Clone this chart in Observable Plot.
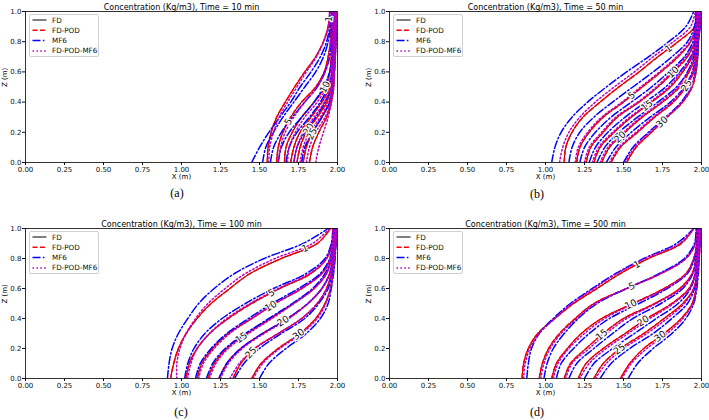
<!DOCTYPE html>
<html>
<head>
<meta charset="utf-8">
<script src="https://cdn.jsdelivr.net/npm/d3@7"></script>
<script src="https://cdn.jsdelivr.net/npm/@observablehq/plot@0.6"></script>
<style>
  body { margin: 0; background: #fff; }
  #fig { position: relative; width: 709px; height: 420px; overflow: hidden; font-family: "DejaVu Sans", sans-serif; }
  .panel { position: absolute; }
  .caption { position: absolute; font-family: "Liberation Serif", serif; font-size: 12px; line-height: 1; transform: translate(-50%, -50%); }
  .legend { position: absolute; box-sizing: border-box; background: rgba(255,255,255,0.85); border: 0.8px solid #d0d0d0; border-radius: 2px; }
  .legend svg { display: block; overflow: visible; }
</style>
</head>
<body>
<div id="fig"></div>
<script>
// Heights at which every contour's X position is tabulated
const zGrid = [0, 0.1, 0.2, 0.3, 0.4, 0.5, 0.6, 0.7, 0.8, 0.9, 1.0];
// Concentration contour levels (kg/m3)
const levels = [1, 5, 10, 15, 20, 25, 30];
const xTicks = [0, 0.25, 0.5, 0.75, 1.0, 1.25, 1.5, 1.75, 2.0];
const zTicks = [0, 0.2, 0.4, 0.6, 0.8, 1.0];
const times = [10, 50, 100, 500];
const panelTags = ["(a)", "(b)", "(c)", "(d)"];
const seriesNames = ["FD", "FD-POD", "MF6", "FD-POD-MF6"];

// ---- t = 10 min : X (m) of each level at the zGrid heights ----
const fd10 = [
  [1.55, 1.555, 1.575, 1.61, 1.665, 1.725, 1.79, 1.86, 1.91, 1.94, 1.95],
  [1.61, 1.62, 1.65, 1.70, 1.77, 1.86, 1.915, 1.94, 1.955, 1.96, 1.965],
  [1.66, 1.67, 1.71, 1.77, 1.85, 1.92, 1.95, 1.96, 1.965, 1.97, 1.97],
  [1.70, 1.72, 1.76, 1.83, 1.90, 1.95, 1.965, 1.97, 1.975, 1.975, 1.98],
  [1.74, 1.76, 1.80, 1.87, 1.93, 1.96, 1.97, 1.975, 1.98, 1.98, 1.985],
  [1.78, 1.80, 1.84, 1.90, 1.95, 1.97, 1.975, 1.98, 1.985, 1.985, 1.99],
  [1.82, 1.84, 1.88, 1.93, 1.96, 1.975, 1.98, 1.985, 1.99, 1.99, 1.995]
];
const mf610 = [
  [1.45, 1.50, 1.56, 1.63, 1.70, 1.76, 1.83, 1.89, 1.93, 1.95, 1.96],
  [1.52, 1.54, 1.59, 1.65, 1.72, 1.79, 1.86, 1.91, 1.94, 1.955, 1.96],
  [1.57, 1.59, 1.64, 1.71, 1.79, 1.87, 1.92, 1.95, 1.96, 1.965, 1.97],
  [1.62, 1.64, 1.69, 1.77, 1.85, 1.91, 1.95, 1.965, 1.97, 1.975, 1.975],
  [1.67, 1.69, 1.74, 1.82, 1.89, 1.94, 1.965, 1.975, 1.98, 1.98, 1.98],
  [1.72, 1.74, 1.79, 1.86, 1.92, 1.96, 1.975, 1.98, 1.985, 1.985, 1.985],
  [1.77, 1.79, 1.84, 1.90, 1.95, 1.97, 1.98, 1.985, 1.99, 1.99, 1.99]
];
const pm10 = [
  [1.56, 1.565, 1.59, 1.625, 1.68, 1.74, 1.80, 1.865, 1.91, 1.94, 1.95],
  [1.62, 1.635, 1.665, 1.72, 1.79, 1.87, 1.92, 1.945, 1.955, 1.96, 1.965],
  [1.68, 1.69, 1.73, 1.79, 1.87, 1.93, 1.955, 1.962, 1.967, 1.97, 1.97],
  [1.72, 1.74, 1.78, 1.85, 1.915, 1.955, 1.967, 1.972, 1.975, 1.977, 1.98],
  [1.76, 1.78, 1.82, 1.89, 1.94, 1.965, 1.972, 1.977, 1.98, 1.982, 1.985],
  [1.80, 1.82, 1.86, 1.92, 1.957, 1.972, 1.977, 1.982, 1.985, 1.987, 1.99],
  [1.86, 1.88, 1.91, 1.94, 1.962, 1.977, 1.982, 1.987, 1.99, 1.992, 1.995]
];

// ---- t = 50 min ----
const fd50 = [
  [1.12, 1.13, 1.17, 1.24, 1.35, 1.47, 1.60, 1.72, 1.85, 1.955, 1.965],
  [1.20, 1.22, 1.28, 1.37, 1.50, 1.62, 1.74, 1.85, 1.93, 1.965, 1.97],
  [1.26, 1.29, 1.37, 1.46, 1.60, 1.72, 1.82, 1.91, 1.955, 1.97, 1.975],
  [1.31, 1.35, 1.44, 1.55, 1.68, 1.80, 1.88, 1.94, 1.965, 1.975, 1.98],
  [1.36, 1.41, 1.51, 1.62, 1.75, 1.86, 1.92, 1.96, 1.97, 1.98, 1.985],
  [1.42, 1.48, 1.59, 1.70, 1.82, 1.90, 1.95, 1.97, 1.975, 1.985, 1.99],
  [1.52, 1.58, 1.68, 1.78, 1.88, 1.94, 1.965, 1.975, 1.98, 1.99, 1.995]
];
const mf650 = [
  [1.04, 1.06, 1.10, 1.17, 1.27, 1.39, 1.52, 1.66, 1.79, 1.90, 1.95],
  [1.15, 1.17, 1.22, 1.31, 1.43, 1.56, 1.69, 1.81, 1.91, 1.955, 1.965],
  [1.22, 1.25, 1.32, 1.42, 1.55, 1.68, 1.79, 1.89, 1.945, 1.965, 1.97],
  [1.28, 1.32, 1.40, 1.51, 1.64, 1.77, 1.86, 1.93, 1.96, 1.97, 1.975],
  [1.33, 1.38, 1.47, 1.59, 1.72, 1.84, 1.91, 1.95, 1.97, 1.98, 1.98],
  [1.39, 1.45, 1.55, 1.67, 1.80, 1.89, 1.94, 1.965, 1.975, 1.985, 1.985],
  [1.50, 1.56, 1.66, 1.77, 1.87, 1.93, 1.96, 1.975, 1.98, 1.99, 1.99]
];
const pm50 = [
  [1.09, 1.11, 1.15, 1.22, 1.32, 1.44, 1.57, 1.69, 1.82, 1.93, 1.96],
  [1.19, 1.21, 1.27, 1.36, 1.49, 1.61, 1.73, 1.84, 1.925, 1.962, 1.968],
  [1.25, 1.28, 1.36, 1.45, 1.59, 1.71, 1.81, 1.90, 1.952, 1.968, 1.973],
  [1.30, 1.34, 1.43, 1.54, 1.67, 1.79, 1.87, 1.935, 1.962, 1.973, 1.978],
  [1.35, 1.40, 1.50, 1.61, 1.74, 1.85, 1.915, 1.955, 1.968, 1.978, 1.983],
  [1.41, 1.47, 1.58, 1.69, 1.81, 1.895, 1.945, 1.967, 1.973, 1.983, 1.988],
  [1.51, 1.57, 1.67, 1.775, 1.875, 1.935, 1.962, 1.973, 1.978, 1.988, 1.993]
];

// ---- t = 100 min ----
const fd100 = [
  [0.93, 0.95, 0.98, 1.03, 1.10, 1.19, 1.31, 1.44, 1.64, 1.87, 1.955],
  [1.03, 1.05, 1.10, 1.18, 1.30, 1.45, 1.63, 1.83, 1.93, 1.965, 1.97],
  [1.10, 1.13, 1.20, 1.30, 1.45, 1.60, 1.77, 1.90, 1.955, 1.97, 1.975],
  [1.17, 1.21, 1.29, 1.42, 1.57, 1.72, 1.85, 1.93, 1.96, 1.975, 1.98],
  [1.24, 1.29, 1.38, 1.52, 1.68, 1.81, 1.90, 1.95, 1.97, 1.98, 1.985],
  [1.33, 1.38, 1.47, 1.62, 1.77, 1.87, 1.93, 1.96, 1.975, 1.985, 1.99],
  [1.45, 1.51, 1.62, 1.76, 1.86, 1.92, 1.955, 1.97, 1.98, 1.99, 1.995]
];
const mf6100 = [
  [0.91, 0.92, 0.94, 0.98, 1.04, 1.11, 1.21, 1.34, 1.53, 1.78, 1.94],
  [1.02, 1.04, 1.08, 1.15, 1.26, 1.41, 1.59, 1.80, 1.92, 1.96, 1.97],
  [1.09, 1.12, 1.19, 1.29, 1.43, 1.58, 1.75, 1.89, 1.95, 1.97, 1.975],
  [1.16, 1.20, 1.28, 1.41, 1.56, 1.71, 1.84, 1.92, 1.96, 1.975, 1.98],
  [1.24, 1.29, 1.38, 1.52, 1.68, 1.81, 1.90, 1.95, 1.97, 1.98, 1.985],
  [1.34, 1.40, 1.50, 1.64, 1.79, 1.88, 1.94, 1.965, 1.975, 1.985, 1.99],
  [1.50, 1.56, 1.67, 1.80, 1.89, 1.94, 1.96, 1.975, 1.985, 1.99, 1.995]
];
const pm100 = [
  [0.97, 0.97, 0.99, 1.03, 1.09, 1.17, 1.28, 1.41, 1.60, 1.84, 1.95],
  [1.04, 1.06, 1.10, 1.18, 1.29, 1.44, 1.62, 1.82, 1.93, 1.965, 1.97],
  [1.11, 1.14, 1.21, 1.31, 1.45, 1.60, 1.77, 1.90, 1.955, 1.97, 1.975],
  [1.18, 1.22, 1.30, 1.43, 1.58, 1.72, 1.85, 1.93, 1.96, 1.975, 1.98],
  [1.25, 1.30, 1.39, 1.53, 1.69, 1.81, 1.90, 1.95, 1.97, 1.98, 1.985],
  [1.31, 1.37, 1.47, 1.62, 1.77, 1.87, 1.93, 1.96, 1.975, 1.985, 1.99],
  [1.46, 1.52, 1.63, 1.77, 1.87, 1.925, 1.957, 1.972, 1.982, 1.99, 1.995]
];

// ---- t = 500 min ----
const fd500 = [
  [0.85, 0.86, 0.89, 0.95, 1.06, 1.18, 1.33, 1.48, 1.66, 1.87, 1.95],
  [0.96, 0.98, 1.02, 1.09, 1.19, 1.31, 1.52, 1.74, 1.90, 1.96, 1.97],
  [1.04, 1.07, 1.14, 1.23, 1.36, 1.56, 1.76, 1.90, 1.95, 1.97, 1.975],
  [1.12, 1.16, 1.26, 1.37, 1.50, 1.70, 1.86, 1.94, 1.965, 1.975, 1.98],
  [1.21, 1.26, 1.37, 1.51, 1.65, 1.81, 1.92, 1.96, 1.975, 1.98, 1.985],
  [1.31, 1.37, 1.48, 1.63, 1.76, 1.88, 1.95, 1.97, 1.98, 1.985, 1.99],
  [1.48, 1.54, 1.63, 1.76, 1.87, 1.94, 1.965, 1.975, 1.985, 1.99, 1.995]
];
const mf6500 = [
  [0.88, 0.89, 0.91, 0.96, 1.05, 1.16, 1.30, 1.45, 1.63, 1.84, 1.95],
  [0.99, 1.01, 1.05, 1.12, 1.21, 1.33, 1.52, 1.73, 1.89, 1.955, 1.965],
  [1.07, 1.10, 1.18, 1.28, 1.41, 1.60, 1.78, 1.91, 1.955, 1.97, 1.975],
  [1.15, 1.20, 1.31, 1.43, 1.56, 1.74, 1.88, 1.945, 1.965, 1.975, 1.98],
  [1.25, 1.31, 1.43, 1.57, 1.71, 1.85, 1.93, 1.96, 1.975, 1.98, 1.985],
  [1.35, 1.42, 1.54, 1.69, 1.81, 1.91, 1.955, 1.97, 1.98, 1.985, 1.99],
  [1.53, 1.59, 1.69, 1.81, 1.90, 1.95, 1.97, 1.98, 1.985, 1.99, 1.995]
];
const pm500 = [
  [0.86, 0.87, 0.90, 0.96, 1.06, 1.17, 1.31, 1.46, 1.64, 1.86, 1.95],
  [0.97, 0.99, 1.03, 1.10, 1.20, 1.32, 1.52, 1.74, 1.90, 1.96, 1.97],
  [1.05, 1.08, 1.15, 1.25, 1.38, 1.57, 1.77, 1.905, 1.952, 1.97, 1.975],
  [1.13, 1.17, 1.28, 1.39, 1.52, 1.71, 1.87, 1.942, 1.965, 1.975, 1.98],
  [1.22, 1.28, 1.39, 1.53, 1.67, 1.82, 1.925, 1.96, 1.975, 1.98, 1.985],
  [1.32, 1.39, 1.50, 1.65, 1.78, 1.89, 1.952, 1.97, 1.98, 1.985, 1.99],
  [1.49, 1.55, 1.65, 1.78, 1.88, 1.945, 1.967, 1.977, 1.985, 1.99, 1.995]
];

// Inline contour labels on the FD set: level and the height it sits at
const labelLevels10 = [1, 10, 5, 20, 25];
const labelZ10 = [0.95, 0.50, 0.27, 0.22, 0.19];
const labelLevels50 = [1, 5, 10, 15, 20, 25, 30];
const labelZ50 = [0.753, 0.444, 0.598, 0.377, 0.168, 0.51, 0.267];
const labelLevels100 = [1, 5, 10, 15, 20, 25, 30];
const labelZ100 = [0.866, 0.57, 0.482, 0.272, 0.382, 0.172, 0.294];
const labelLevels500 = [1, 5, 10, 15, 20, 25, 30];
const labelZ500 = [0.759, 0.615, 0.494, 0.292, 0.383, 0.195, 0.281];

// FD-POD reproduces the FD contours to plotting precision
const sets = [
  {fd: fd10, pod: fd10, mf6: mf610, pm: pm10, labLev: labelLevels10, labZ: labelZ10},
  {fd: fd50, pod: fd50, mf6: mf650, pm: pm50, labLev: labelLevels50, labZ: labelZ50},
  {fd: fd100, pod: fd100, mf6: mf6100, pm: pm100, labLev: labelLevels100, labZ: labelZ100},
  {fd: fd500, pod: fd500, mf6: mf6500, pm: pm500, labLev: labelLevels500, labZ: labelZ500}
];

// ---- styling and layout ----
const styles = {
  "FD":         {stroke: "#000000", strokeWidth: 1.0, dash: null},
  "FD-POD":     {stroke: "#ff0000", strokeWidth: 1.6, dash: "5,2.4"},
  "MF6":        {stroke: "#0000ff", strokeWidth: 1.5, dash: "8,2.4,1.5,2.4"},
  "FD-POD-MF6": {stroke: "#bf00bf", strokeWidth: 1.5, dash: "1.5,2.4"}
};
const layout = [
  {left: 0,   top: 0,   width: 354, height: 185, ml: 25, mr: 17, mt: 11, mb: 23, cx: 177, cy: 193},
  {left: 354, top: 0,   width: 355, height: 185, ml: 35, mr: 8,  mt: 11, mb: 23, cx: 537, cy: 194},
  {left: 0,   top: 216, width: 354, height: 185, ml: 25, mr: 17, mt: 12, mb: 23, cx: 181, cy: 412},
  {left: 354, top: 216, width: 355, height: 185, ml: 35, mr: 8,  mt: 12, mb: 23, cx: 537, cy: 412}
];

function toRows(set, series) {
  return set.flatMap((xs, i) => xs.map((x, j) => ({series, level: levels[i], x, z: zGrid[j]})));
}
function xAt(xs, z) {
  const j = Math.max(0, Math.min(zGrid.length - 2, Math.floor(z / 0.1)));
  const t = (z - zGrid[j]) / (zGrid[j + 1] - zGrid[j]);
  return xs[j] + t * (xs[j + 1] - xs[j]);
}

const fig = document.getElementById("fig");

sets.forEach((s, k) => {
  const L = layout[k];
  const plotW = L.width - L.ml - L.mr;
  const plotH = L.height - L.mt - L.mb;

  const labels = s.labLev.map((lev, i) => {
    const xs = s.fd[levels.indexOf(lev)];
    const z = s.labZ[i];
    const x = xAt(xs, z);
    const za = Math.max(0, z - 0.03), zb = Math.min(1, z + 0.03);
    const dx = (xAt(xs, zb) - xAt(xs, za)) * plotW / 2;
    const dy = -(zb - za) * plotH;
    return {x, z, text: String(lev), angle: Math.atan2(dy, dx) * 180 / Math.PI};
  });

  const lineMark = (set, name) => {
    const st = styles[name];
    return Plot.line(toRows(set, name), {
      x: "x", y: "z", z: "level", curve: "catmull-rom", clip: true,
      stroke: st.stroke, strokeWidth: st.strokeWidth, strokeDasharray: st.dash
    });
  };

  const chart = Plot.plot({
    width: L.width, height: L.height,
    marginLeft: L.ml, marginRight: L.mr, marginTop: L.mt, marginBottom: L.mb,
    style: {fontFamily: "DejaVu Sans, sans-serif", fontSize: "7px", color: "#111", background: "transparent", overflow: "visible"},
    x: {domain: [0, 2]},
    y: {domain: [0, 1]},
    marks: [
      lineMark(s.fd, "FD"),
      lineMark(s.pod, "FD-POD"),
      lineMark(s.mf6, "MF6"),
      lineMark(s.pm, "FD-POD-MF6"),
      Plot.text(labels, {x: "x", y: "z", text: "text", rotate: "angle", fontSize: 9.5,
        fill: "#111", stroke: "white", strokeWidth: 2.5}),
      Plot.frame({stroke: "black", strokeWidth: 0.8}),
      Plot.axisX(xTicks, {tickFormat: d3.format(".2f"), tickSize: 3, tickPadding: 1.5, label: null}),
      Plot.axisY(zTicks, {tickFormat: d3.format(".1f"), tickSize: 3, tickPadding: 1, label: null}),
      Plot.text([`Concentration (Kg/m3), Time = ${times[k]} min`], {frameAnchor: "top", dy: -7.5, fontSize: 8, fill: "black"}),
      Plot.text(["X (m)"], {frameAnchor: "bottom", dy: 16.5, fontSize: 7, fill: "black"}),
      Plot.text(["Z (m)"], {frameAnchor: "left", dx: -21, rotate: -90, fontSize: 7, fill: "black"})
    ]
  });
  const wrap = document.createElement("div");
  wrap.className = "panel";
  wrap.style.left = L.left + "px";
  wrap.style.top = L.top + "px";
  wrap.appendChild(chart);
  fig.appendChild(wrap);

  // legend box in the upper-left corner of the axes
  const lg = document.createElement("div");
  lg.className = "legend";
  lg.style.left = (L.left + L.ml + 3.7) + "px";
  lg.style.top = (L.top + L.mt + 3.3) + "px";
  lg.style.width = "70px";
  lg.style.height = "43px";
  const svg = d3.select(lg).append("svg").attr("width", 68).attr("height", 41);
  seriesNames.forEach((name, i) => {
    const st = styles[name];
    const y = 5 + i * 10.3;
    svg.append("line").attr("x1", 2.5).attr("x2", 16.5).attr("y1", y).attr("y2", y)
      .attr("stroke", st.stroke).attr("stroke-width", st.strokeWidth)
      .attr("stroke-dasharray", st.dash);
    svg.append("text").attr("x", 22).attr("y", y).attr("dy", "0.35em")
      .attr("font-size", 7.2).attr("font-family", "DejaVu Sans, sans-serif").attr("fill", "#111").text(name);
  });
  fig.appendChild(lg);

  const cap = document.createElement("div");
  cap.className = "caption";
  cap.style.left = L.cx + "px";
  cap.style.top = L.cy + "px";
  cap.textContent = panelTags[k];
  fig.appendChild(cap);
});
</script>
</body>
</html>
